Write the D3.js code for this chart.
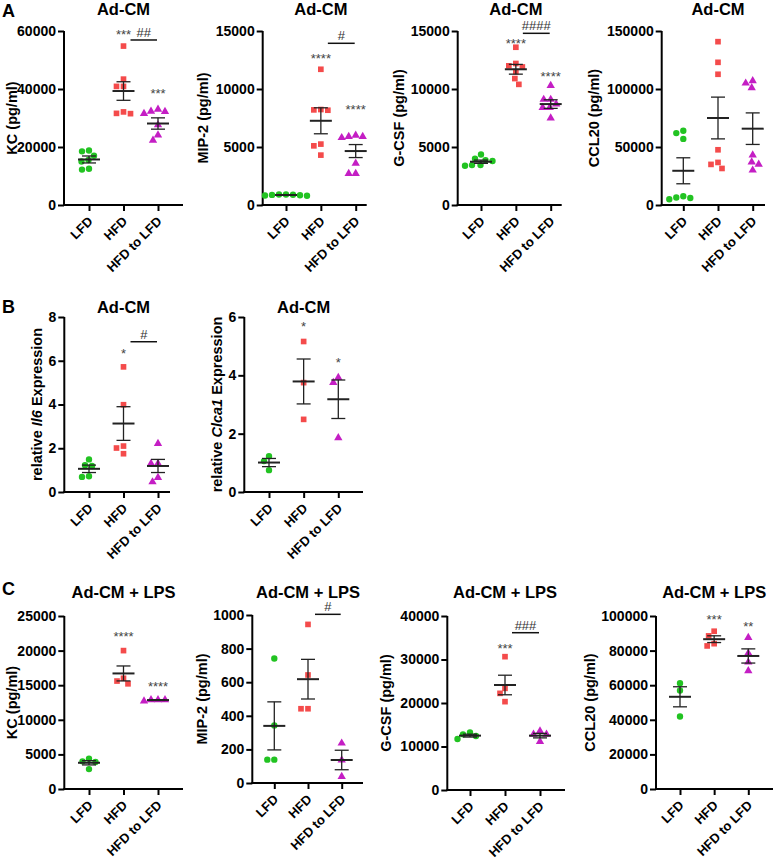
<!DOCTYPE html>
<html>
<head>
<meta charset="utf-8">
<script src="https://cdn.jsdelivr.net/npm/d3@7"></script>
<style>
  body { margin: 0; background: #fff; }
  text { font-family: "Liberation Sans", Arial, sans-serif; }
</style>
</head>
<body>
<svg id="fig" width="777" height="860"></svg>
<script>
// groups / colours shared by all panels
var groups = ["LFD", "HFD", "HFD to LFD"]
var groupColors = ["#22c322", "#f44b4b", "#c41ec4"]
var groupShapes = [d3.symbolCircle, d3.symbolSquare, d3.symbolTriangle]

// ---- A : Ad-CM ----
var kcAd = [[18500, 18800, 17000, 15500, 15000, 12200, 12500],
            [54800, 43400, 40900, 40900, 31600, 32100, 31500],
            [33000, 32200, 32300, 31500, 27600, 24100, 22300]]
var kcAdMean = [15700, 39300, 28100]
var kcAdSem = [1200, 3200, 1950]
var kcAdTicks = [0, 20000, 40000, 60000]

var mip2Ad = [[900, 820, 880, 800, 870, 840, 910],
              [11700, 8230, 8200, 8170, 5100, 5250, 4300],
              [6000, 5900, 5900, 5800, 3600, 2700, 2700]]
var mip2AdMean = [860, 7260, 4650]
var mip2AdSem = [20, 1120, 560]
var mip2AdTicks = [0, 5000, 10000, 15000]

var gcsfAd = [[4350, 4000, 3870, 3790, 3440, 3440, 3380],
              [13600, 12200, 12000, 11900, 11500, 10900, 10400],
              [10300, 9100, 9100, 8700, 8400, 8400, 7500]]
var gcsfAdMean = [3730, 11700, 8700]
var gcsfAdSem = [140, 420, 370]
var gcsfAdTicks = [0, 5000, 10000, 15000]

var ccl20Ad = [[64000, 62000, 57000, 7500, 5000, 6500, 6000],
               [140800, 123000, 112700, 47600, 36700, 31500, 35000],
               [107000, 105000, 101000, 43000, 37000, 35000, 30000]]
var ccl20AdMean = [29500, 75000, 65800]
var ccl20AdSem = [11200, 18000, 13600]
var ccl20AdTicks = [0, 50000, 100000, 150000]

// ---- B : expression ----
var il6 = [[1.49, 1.19, 1.22, 0.69, 0.72],
           [5.72, 3.99, 2.10, 2.01, 1.75],
           [2.21, 1.30, 1.30, 0.46, 0.66]]
var il6Mean = [1.06, 3.13, 1.19]
var il6Sem = [0.17, 0.77, 0.30]
var il6Ticks = [0, 2, 4, 6, 8]

var clca1 = [[1.23, 1.06, 0.75],
             [5.16, 3.75, 2.49],
             [3.92, 3.75, 1.86]]
var clca1Mean = [1.01, 3.79, 3.18]
var clca1Sem = [0.14, 0.77, 0.66]
var clca1Ticks = [0, 2, 4, 6]

// ---- C : Ad-CM + LPS ----
var kcLps = [[4380, 3900, 4000, 2880],
             [20000, 16000, 15200, 15600],
             [12700, 12900, 12900, 12900]]
var kcLpsMean = [3790, 16700, 12850]
var kcLpsSem = [310, 1080, 50]
var kcLpsTicks = [0, 5000, 10000, 15000, 20000, 25000]

var mip2Lps = [[741, 343, 139, 139],
               [944, 643, 442, 442],
               [237, 137, 38]]
var mip2LpsMean = [340, 618, 137]
var mip2LpsSem = [143, 118, 58]
var mip2LpsTicks = [0, 200, 400, 600, 800, 1000]

var gcsfLps = [[13260, 12800, 12410, 11720],
               [30650, 23370, 22220, 20310],
               [13560, 12800, 12800, 11110]]
var gcsfLpsMean = [12500, 24140, 12500]
var gcsfLpsSem = [330, 2250, 520]
var gcsfLpsTicks = [0, 10000, 20000, 30000, 40000]

var ccl20Lps = [[61150, 56900, 41900],
                [88500, 91200, 82700, 84000],
                [87500, 78500, 73300, 68300]]
var ccl20LpsMean = [53300, 86600, 76900]
var ccl20LpsSem = [5800, 1950, 4100]
var ccl20LpsTicks = [0, 20000, 40000, 60000, 80000, 100000]

// significance marks: [group, text, value]  and bars: [from, to, value, text]
var kcAdStars = [[1, "***", 59750], [2, "***", 39650]]
var kcAdBars = [[1, 2, 56900, "##"]]
var mip2AdStars = [[1, "****", 12930], [2, "****", 8480]]
var mip2AdBars = [[1, 2, 13940, "#"]]
var gcsfAdStars = [[1, "****", 14220], [2, "****", 11350]]
var gcsfAdBars = [[1, 2, 14800, "####"]]
var il6Stars = [[1, "*", 6.49]]
var il6Bars = [[1, 2, 6.87, "#"]]
var clca1Stars = [[1, "*", 5.78], [2, "*", 4.53]]
var kcLpsStars = [[1, "****", 22500], [2, "****", 15270]]
var mip2LpsBars = [[1, 2, 1004, "#"]]
var gcsfLpsStars = [[1, "***", 33330]]
var gcsfLpsBars = [[1, 2, 36160, "###"]]
var ccl20LpsStars = [[1, "***", 100000], [2, "**", 95780]]

// layout of every panel (pixels)
var panels = [
  {vals: kcAd, mean: kcAdMean, sem: kcAdSem, ticks: kcAdTicks, stars: kcAdStars, bars: kcAdBars,
   title: "Ad-CM", ylab: ["KC (pg/ml)"], left: 64, right: 183, p0: 89, p1: 158, top: 31, zero: 205, labX: 12, titleY: 15},
  {vals: mip2Ad, mean: mip2AdMean, sem: mip2AdSem, ticks: mip2AdTicks, stars: mip2AdStars, bars: mip2AdBars,
   title: "Ad-CM", ylab: ["MIP-2 (pg/ml)"], left: 262.7, right: 366.7, p0: 286, p1: 355.7, top: 31, zero: 205, labX: 203, titleY: 15},
  {vals: gcsfAd, mean: gcsfAdMean, sem: gcsfAdSem, ticks: gcsfAdTicks, stars: gcsfAdStars, bars: gcsfAdBars,
   title: "Ad-CM", ylab: ["G-CSF (pg/ml)"], left: 457.7, right: 561.7, p0: 481, p1: 550.7, top: 31, zero: 205, labX: 399, titleY: 15},
  {vals: ccl20Ad, mean: ccl20AdMean, sem: ccl20AdSem, ticks: ccl20AdTicks, stars: [], bars: [],
   title: "Ad-CM", ylab: ["CCL20 (pg/ml)"], left: 661.7, right: 765, p0: 683.3, p1: 752.7, top: 31, zero: 205, labX: 594, titleY: 15},
  {vals: il6, mean: il6Mean, sem: il6Sem, ticks: il6Ticks, stars: il6Stars, bars: il6Bars,
   title: "Ad-CM", ylab: ["relative ", "Il6", " Expression"], left: 64.3, right: 170, p0: 89, p1: 158, top: 317, zero: 492, labX: 37, titleY: 313},
  {vals: clca1, mean: clca1Mean, sem: clca1Sem, ticks: clca1Ticks, stars: clca1Stars, bars: [],
   title: "Ad-CM", ylab: ["relative ", "Clca1", " Expression"], left: 244.3, right: 363, p0: 269, p1: 338.3, top: 317, zero: 492, labX: 217, titleY: 313},
  {vals: kcLps, mean: kcLpsMean, sem: kcLpsSem, ticks: kcLpsTicks, stars: kcLpsStars, bars: [],
   title: "Ad-CM + LPS", ylab: ["KC (pg/ml)"], left: 64.3, right: 183, p0: 89, p1: 158, top: 616, zero: 789, labX: 12, titleY: 598},
  {vals: mip2Lps, mean: mip2LpsMean, sem: mip2LpsSem, ticks: mip2LpsTicks, stars: [], bars: mip2LpsBars,
   title: "Ad-CM + LPS", ylab: ["MIP-2 (pg/ml)"], left: 252.3, right: 363, p0: 274.3, p1: 341.7, top: 615, zero: 783, labX: 202, titleY: 598},
  {vals: gcsfLps, mean: gcsfLpsMean, sem: gcsfLpsSem, ticks: gcsfLpsTicks, stars: gcsfLpsStars, bars: gcsfLpsBars,
   title: "Ad-CM + LPS", ylab: ["G-CSF (pg/ml)"], left: 447.3, right: 565, p0: 470, p1: 540, top: 616, zero: 790, labX: 386, titleY: 598},
  {vals: ccl20Lps, mean: ccl20LpsMean, sem: ccl20LpsSem, ticks: ccl20LpsTicks, stars: ccl20LpsStars, bars: [],
   title: "Ad-CM + LPS", ylab: ["CCL20 (pg/ml)"], left: 656, right: 773, p0: 680, p1: 748.3, top: 616, zero: 789, labX: 590, titleY: 598}
]

var letters = [["A", 2, 16.5], ["B", 2, 313], ["C", 2, 595]]

var svg = d3.select("#fig")

// simple beeswarm, spreads points sideways when they would overlap
function swarm(ys, cx, dist) {
    var placed = []
    var xs = []
    var order = d3.range(ys.length).sort(function(a, b) { return ys[a] - ys[b] })
    order.forEach(function(i) {
        var off = 0
        for (var k = 0; k < 200; k++) {
            off = (k % 2 ? -1 : 1) * Math.ceil(k / 2) * 0.5
            var ok = placed.every(function(p) {
                return Math.hypot(p[0] - off, p[1] - ys[i]) >= dist
            })
            if (ok) break
        }
        placed.push([off, ys[i]])
        xs[i] = cx + off
    })
    return xs
}

function drawPanel(p) {
    var g = svg.append("g")
    var x = d3.scalePoint().domain(groups).range([p.p0, p.p1])
    var y = d3.scaleLinear().domain([0, d3.max(p.ticks)]).range([p.zero, p.top])

    // y axis
    var ya = g.append("g")
        .attr("transform", "translate(" + p.left + ",0)")
        .call(d3.axisLeft(y).tickValues(p.ticks).tickSize(6).tickPadding(2).tickFormat(d3.format("d")))
    ya.select(".domain").attr("stroke-width", 2).attr("d", "M0," + p.top + "V" + (p.zero + 1))
    ya.selectAll(".tick line").attr("stroke-width", 2)
    ya.selectAll(".tick text").attr("font-size", 14).attr("font-weight", "bold").attr("fill", "#000")

    // x axis
    var xa = g.append("g")
        .attr("transform", "translate(0," + p.zero + ")")
        .call(d3.axisBottom(x).tickSize(6))
    xa.select(".domain").attr("stroke-width", 2).attr("d", "M" + (p.left - 1) + ",0H" + p.right)
    xa.selectAll(".tick line").attr("stroke-width", 2)
    xa.selectAll(".tick text")
        .attr("font-size", 13).attr("font-weight", "bold").attr("fill", "#000")
        .attr("text-anchor", "end").attr("x", 0).attr("y", 0).attr("dy", "0.35em")
        .attr("transform", "translate(1,14) rotate(-45)")

    // y label
    var lab = g.append("text")
        .attr("transform", "translate(" + p.labX + "," + ((p.top + p.zero) / 2) + ") rotate(-90)")
        .attr("text-anchor", "middle").attr("dy", "0.35em")
        .attr("font-size", 14.5).attr("font-weight", "bold")
    p.ylab.forEach(function(s, i) {
        lab.append("tspan").text(s).attr("font-style", i == 1 ? "italic" : "normal")
    })

    // title
    g.append("text").attr("x", x("HFD")).attr("y", p.titleY)
        .attr("text-anchor", "middle").attr("font-size", 16.5).attr("font-weight", "bold")
        .text(p.title)

    // points
    p.vals.forEach(function(vs, gi) {
        var ys = vs.map(function(v) { return y(v) })
        var xs = swarm(ys, x(groups[gi]), 7)
        g.selectAll(".pt" + gi).data(vs).enter().append("path")
            .attr("class", "pt" + gi)
            .attr("transform", function(d, i) { return "translate(" + xs[i] + "," + ys[i] + ")" })
            .attr("d", d3.symbol().type(groupShapes[gi]).size(gi == 2 ? 30 : 32))
            .attr("fill", groupColors[gi])
    })

    // mean +- sem
    var eb = g.selectAll(".eb").data(groups).enter().append("g").attr("stroke", "#222")
    eb.append("line")
        .attr("x1", function(d) { return x(d) - 11 }).attr("x2", function(d) { return x(d) + 11 })
        .attr("y1", function(d, i) { return y(p.mean[i]) }).attr("y2", function(d, i) { return y(p.mean[i]) })
        .attr("stroke-width", 2)
    eb.append("line")
        .attr("x1", function(d) { return x(d) }).attr("x2", function(d) { return x(d) })
        .attr("y1", function(d, i) { return y(p.mean[i] - p.sem[i]) }).attr("y2", function(d, i) { return y(p.mean[i] + p.sem[i]) })
        .attr("stroke-width", 1.3)
    ;[-1, 1].forEach(function(s) {
        eb.append("line")
            .attr("x1", function(d) { return x(d) - 7 }).attr("x2", function(d) { return x(d) + 7 })
            .attr("y1", function(d, i) { return y(p.mean[i] + s * p.sem[i]) })
            .attr("y2", function(d, i) { return y(p.mean[i] + s * p.sem[i]) })
            .attr("stroke-width", 1.3)
    })

    // stars
    g.selectAll(".star").data(p.stars).enter().append("text")
        .attr("x", function(d) { return x(groups[d[0]]) })
        .attr("y", function(d) { return y(d[2]) + 7.5 })
        .attr("text-anchor", "middle").attr("font-size", 13).attr("fill", "#444")
        .text(function(d) { return d[1] })

    // comparison bars
    var b = g.selectAll(".bar").data(p.bars).enter().append("g")
    b.append("line")
        .attr("x1", function(d) { return x(groups[d[0]]) + 7 })
        .attr("x2", function(d) { return x(groups[d[1]]) - 1 })
        .attr("y1", function(d) { return y(d[2]) }).attr("y2", function(d) { return y(d[2]) })
        .attr("stroke", "#111").attr("stroke-width", 1.5)
    b.append("text")
        .attr("x", function(d) { return (x(groups[d[0]]) + 7 + x(groups[d[1]]) - 1) / 2 })
        .attr("y", function(d) { return y(d[2]) - 3 })
        .attr("text-anchor", "middle").attr("font-size", 13).attr("fill", "#333")
        .text(function(d) { return d[3] })
}

panels.forEach(drawPanel)

svg.selectAll(".letter").data(letters).enter().append("text")
    .attr("x", function(d) { return d[1] }).attr("y", function(d) { return d[2] })
    .attr("font-size", 18).attr("font-weight", "bold")
    .text(function(d) { return d[0] })
</script>
</body>
</html>
